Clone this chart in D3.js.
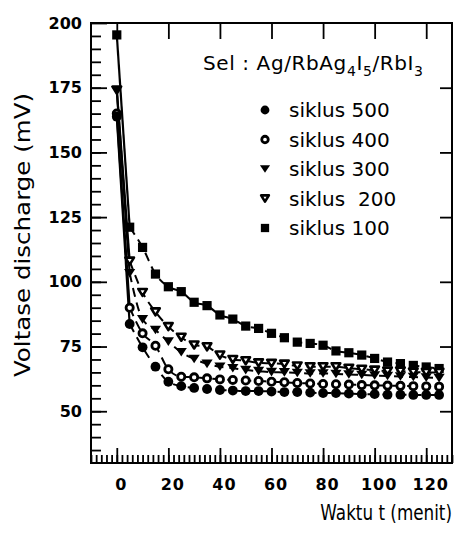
<!DOCTYPE html>
<html><head><meta charset="utf-8">
<script src="https://cdn.jsdelivr.net/npm/d3@7"></script>
<style>
html,body{margin:0;padding:0;background:#fff;}
svg{display:block;}
</style></head>
<body>
<svg id="chart" width="459" height="535"></svg>
<script>
// ---- data ----
const minutes = [0,5,10,15,20,25,30,35,40,45,50,55,60,65,70,75,80,85,90,95,100,105,110,115,120,125];
const siklus500 = [163.8,83.7,74.7,67.2,61.4,59.7,59.0,58.6,58.2,58.0,57.8,57.8,57.6,57.4,57.4,57.2,57.0,57.0,56.8,56.6,56.6,56.4,56.4,56.3,56.3,56.3];
const siklus400 = [165.0,90.0,80.1,75.3,66.2,63.3,63.1,62.7,62.3,62.1,61.9,61.7,61.4,61.2,60.9,60.7,60.5,60.4,60.3,60.1,60.0,59.9,59.8,59.7,59.6,59.5];
const siklus300 = [174.0,103.3,85.5,81.4,76.9,72.8,70.2,68.3,67.2,66.6,65.9,65.5,65.1,65.0,64.8,64.6,64.6,64.4,64.2,64.0,63.8,63.6,63.4,63.2,63.0,62.8];
const siklus200 = [174.1,108.0,95.9,88.4,82.7,78.6,75.6,74.9,71.7,70.0,69.5,68.7,68.5,68.2,67.5,67.2,67.2,67.2,66.6,66.2,65.9,65.5,65.5,65.1,65.0,65.0];
const siklus100 = [195.4,121.1,113.3,103.0,98.1,96.2,92.1,90.8,87.2,85.6,82.9,82.0,80.1,78.4,76.7,76.2,75.5,73.3,72.6,71.7,70.4,69.0,68.4,67.7,67.1,66.5];
const seriesNames = ["siklus 500","siklus 400","siklus 300","siklus  200","siklus 100"];
const seriesValues = [siklus500, siklus400, siklus300, siklus200, siklus100];
const seriesSymbols = ["circleFilled","circleOpen","triDownFilled","triDownOpen","squareFilled"];
const xTickLabels = [0,20,40,60,80,100,120];
const yTickLabels = [50,75,100,125,150,175,200];

// ---- layout ----
const svg = d3.select("#chart");
const L = 91, R = 452, T = 23, B = 463;
const x = d3.scaleLinear().domain([-10,130]).range([L,R]);
const y = d3.scaleLinear().domain([30,200]).range([B,T]);

const fontTick = "'DejaVu Sans', sans-serif";
function styleAxis(g){ g.select(".domain").remove(); g.selectAll("line").attr("stroke","#000").attr("stroke-width",1.8); }

// bottom minor
svg.append("g").attr("transform",`translate(0,${B})`)
  .call(d3.axisBottom(x).tickValues(d3.range(-10,131,2)).tickSize(-8).tickFormat(""))
  .call(styleAxis);
// bottom major with labels
svg.append("g").attr("transform",`translate(0,${B})`)
  .call(d3.axisBottom(x).tickValues(xTickLabels).tickSize(-15).tickPadding(16).tickFormat(d3.format("d")))
  .call(styleAxis)
  .call(g=>g.selectAll("text").attr("font-family",fontTick).attr("font-weight","bold").attr("font-size",16).attr("fill","#000").attr("dx",4).attr("letter-spacing",1));
// top major
svg.append("g").attr("transform",`translate(0,${T})`)
  .call(d3.axisTop(x).tickValues(xTickLabels).tickSize(-16).tickFormat(""))
  .call(styleAxis);
// left minor
svg.append("g").attr("transform",`translate(${L},0)`)
  .call(d3.axisLeft(y).tickValues(d3.range(35,200,5)).tickSize(-10).tickFormat(""))
  .call(styleAxis);
// left major with labels
svg.append("g").attr("transform",`translate(${L},0)`)
  .call(d3.axisLeft(y).tickValues(yTickLabels).tickSize(-16).tickPadding(9).tickFormat(d3.format("d")))
  .call(styleAxis)
  .call(g=>g.selectAll("text").attr("font-family",fontTick).attr("font-weight","bold").attr("font-size",16).attr("fill","#000"));
// right major
svg.append("g").attr("transform",`translate(${R},0)`)
  .call(d3.axisRight(y).tickValues(yTickLabels.filter(v=>v<200)).tickSize(-12).tickFormat(""))
  .call(styleAxis);

// frame
svg.append("rect").attr("x",L).attr("y",T).attr("width",R-L).attr("height",B-T)
  .attr("fill","none").attr("stroke","#000").attr("stroke-width",2);

// axis titles
svg.append("text").attr("transform",`translate(23,235) rotate(-90)`)
  .attr("text-anchor","middle").attr("dominant-baseline","central")
  .attr("font-family","'DejaVu Sans', sans-serif").attr("font-size",21)
  .attr("textLength",284).attr("lengthAdjust","spacingAndGlyphs")
  .text("Voltase discharge (mV)");
svg.append("text").attr("transform","translate(452,520) scale(0.8,1)")
  .attr("text-anchor","end")
  .attr("font-family","'DejaVu Sans', sans-serif").attr("font-size",21)
  .text("Waktu t (menit)");

// lines
const lineGen = d3.line().x(d=>x(d[0])).y(d=>y(d[1])).curve(d3.curveMonotoneX);
seriesValues.forEach(vals=>{
  const pts = minutes.map((m,i)=>[m,vals[i]]);
  svg.append("path").attr("d",lineGen(pts.slice(0,2))).attr("fill","none").attr("stroke","#000").attr("stroke-width",2.2);
  svg.append("path").attr("d",lineGen(pts.slice(1))).attr("fill","none").attr("stroke","#000").attr("stroke-width",2).attr("stroke-dasharray","9,6");
});

// symbols
function drawSymbol(g, kind, cx, cy, s){
  s = s || 1;
  if(kind==="circleFilled") g.append("circle").attr("cx",cx).attr("cy",cy).attr("r",4.9*s).attr("fill","#000");
  else if(kind==="circleOpen") g.append("circle").attr("cx",cx).attr("cy",cy).attr("r",3.6*s).attr("fill","#fff").attr("stroke","#000").attr("stroke-width",2.8);
  else if(kind==="squareFilled") g.append("rect").attr("x",cx-4.6*s).attr("y",cy-4.6*s).attr("width",9.2*s).attr("height",9.2*s).attr("fill","#000");
  else if(kind==="triDownFilled"){
    const w=5.6*s, h=8.6*s;
    g.append("path").attr("d",`M${cx-w},${cy-h/2}L${cx+w},${cy-h/2}L${cx},${cy+h/2}Z`).attr("fill","#000");
  } else {
    const w=4.3*s, h=7*s;
    g.append("path").attr("d",`M${cx-w},${cy-h/2}L${cx+w},${cy-h/2}L${cx},${cy+h/2}Z`)
      .attr("fill","#fff").attr("stroke","#000").attr("stroke-width",2.6).attr("stroke-linejoin","round");
  }
}
const marks = svg.append("g");
[4,3,2,1,0].forEach(si=>{
  minutes.forEach((m,i)=>drawSymbol(marks, seriesSymbols[si], x(m), y(seriesValues[si][i])));
});

// legend
const lg = svg.append("g");
const head = lg.append("text").attr("x",203).attr("y",70)
  .attr("font-family","'DejaVu Sans', sans-serif").attr("font-size",20).attr("letter-spacing",0.6);
head.append("tspan").text("Sel : Ag/RbAg");
head.append("tspan").attr("dy",6).attr("font-size",14).text("4");
head.append("tspan").attr("dy",-6).text("I");
head.append("tspan").attr("dy",6).attr("font-size",14).text("5");
head.append("tspan").attr("dy",-6).text("/RbI");
head.append("tspan").attr("dy",6).attr("font-size",14).text("3");

seriesNames.forEach((name,i)=>{
  const cy = 110 + i*29.5;
  drawSymbol(lg, seriesSymbols[i], 265, cy, 0.9);
  lg.append("text").attr("x",289).attr("y",cy).attr("dominant-baseline","central")
    .attr("font-family","'DejaVu Sans', sans-serif").attr("font-size",20)
    .style("white-space","pre")
    .text(name);
});
</script>
</body></html>
